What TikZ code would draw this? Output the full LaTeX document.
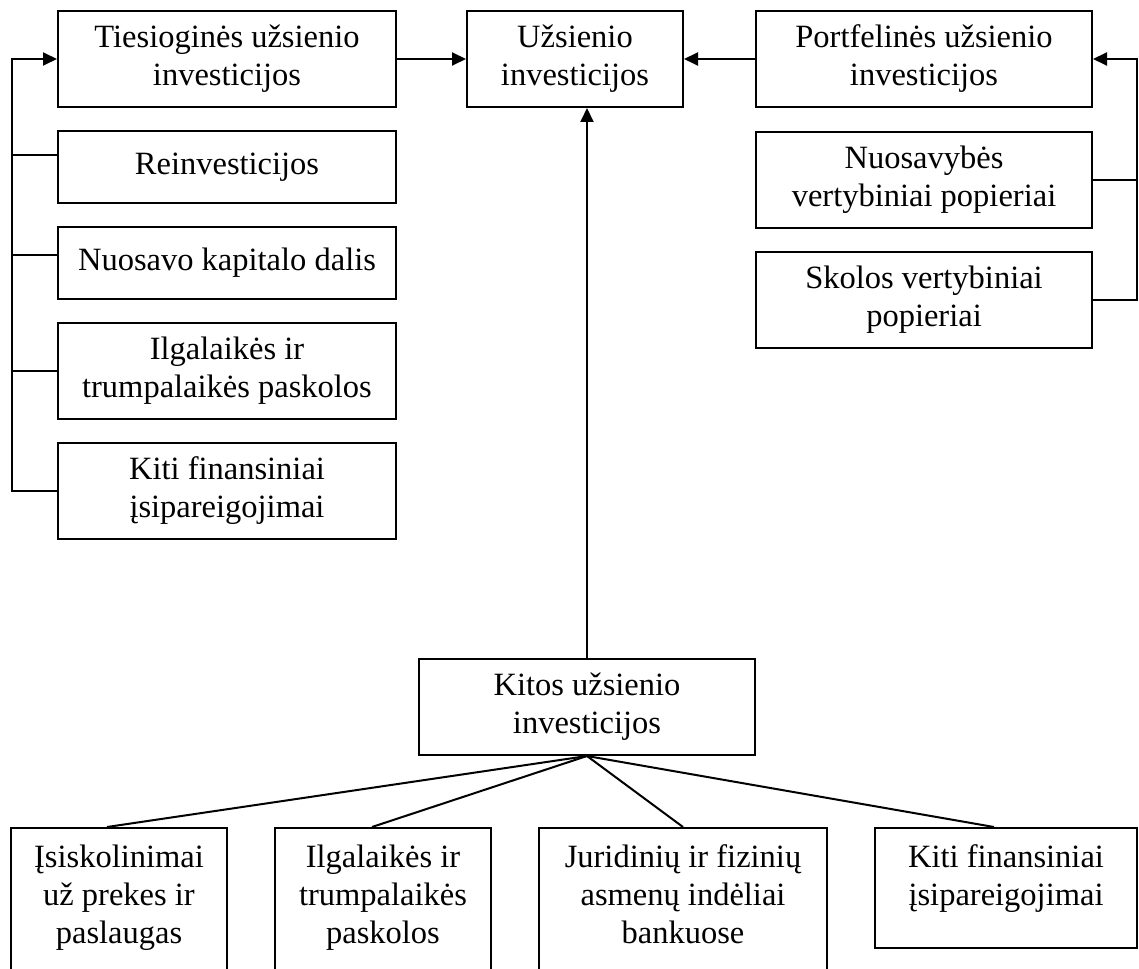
\documentclass[tikz,border=0pt]{standalone}
\usepackage{fontspec}
\setmainfont{Liberation Serif}
\usetikzlibrary{arrows.meta}
\tikzset{
  box/.style={draw, line width=2pt, inner sep=0pt, align=center,
    font=\fontsize{32.5pt}{38pt}\selectfont},
  lbox/.style={box, minimum width=338pt},
  rbox/.style={box, minimum width=336pt},
  conn/.style={line width=2pt},
  arr/.style={line width=2pt, -{Triangle[length=14pt,width=13pt]}},
}
\newcommand{\topbox}[3]{\parbox[c][#1][t]{#2}{\centering\vspace*{17pt}#3\par}}
\begin{document}
\begin{tikzpicture}[x=1pt,y=-1pt]
\clip (0,0) rectangle (1139,968);
% top row
\node[lbox, minimum height=96pt] (T) at (227,59) {Tiesioginės užsienio\\investicijos};
\node[box, minimum width=216pt, minimum height=96pt] (U) at (575,59) {Užsienio\\investicijos};
\node[rbox, minimum height=96pt] (P) at (924,59) {Portfelinės užsienio\\investicijos};
% left column
\node[lbox, minimum height=72pt] (R) at (227,167) {Reinvesticijos};
\node[lbox, minimum height=72pt] (N) at (227,263) {Nuosavo kapitalo dalis};
\node[lbox, minimum height=96pt] (I) at (227,371) {Ilgalaikės ir\\trumpalaikės paskolos};
\node[lbox, minimum height=96pt] (K) at (227,491) {Kiti finansiniai\\įsipareigojimai};
% right column
\node[rbox, minimum height=96pt] (NV) at (924,180) {Nuosavybės\\vertybiniai popieriai};
\node[rbox, minimum height=96pt] (SV) at (924,300) {Skolos vertybiniai\\popieriai};
% middle
\node[rbox, minimum height=96pt] (KU) at (587,707) {Kitos užsienio\\investicijos};
% bottom row
\node[box, anchor=north] (B1) at (119,827) {\topbox{150pt}{216pt}{Įsiskolinimai\\už prekes ir\\paslaugas}};
\node[box, anchor=north] (B2) at (383,827) {\topbox{150pt}{216pt}{Ilgalaikės ir\\trumpalaikės\\paskolos}};
\node[box, anchor=north] (B3) at (683,827) {\topbox{150pt}{288pt}{Juridinių ir fizinių\\asmenų indėliai\\bankuose}};
\node[box, anchor=north] (B4) at (1006,827) {\topbox{120pt}{262pt}{Kiti finansiniai\\įsipareigojimai}};
% left bracket
\coordinate (LB) at (12,0);
\coordinate (r1) at ([yshift=12pt]R.west);
\coordinate (n1) at ([yshift=8pt]N.west);
\draw[arr] (K.west) -- (LB |- K.west) -- (LB |- T.west) -- (T.west);
\draw[conn] (r1) -- (LB |- r1);
\draw[conn] (n1) -- (LB |- n1);
\draw[conn] (I.west) -- (LB |- I.west);
% right bracket
\coordinate (RB) at (1137,0);
\draw[arr] (SV.east) -- (RB |- SV.east) -- (RB |- P.east) -- (P.east);
\draw[conn] (NV.east) -- (RB |- NV.east);
% arrows into Užsienio investicijos
\draw[arr] (T.east) -- (U.west);
\draw[arr] (P.west) -- (U.east);
\draw[arr] (KU.north) -- (KU.north |- U.south);
% bottom connectors
\draw[conn] (KU.south) -- ([xshift=-12pt]B1.north);
\draw[conn] (KU.south) -- ([xshift=-11pt]B2.north);
\draw[conn] (KU.south) -- (B3.north);
\draw[conn] (KU.south) -- ([xshift=-12pt]B4.north);
\end{tikzpicture}
\end{document}
